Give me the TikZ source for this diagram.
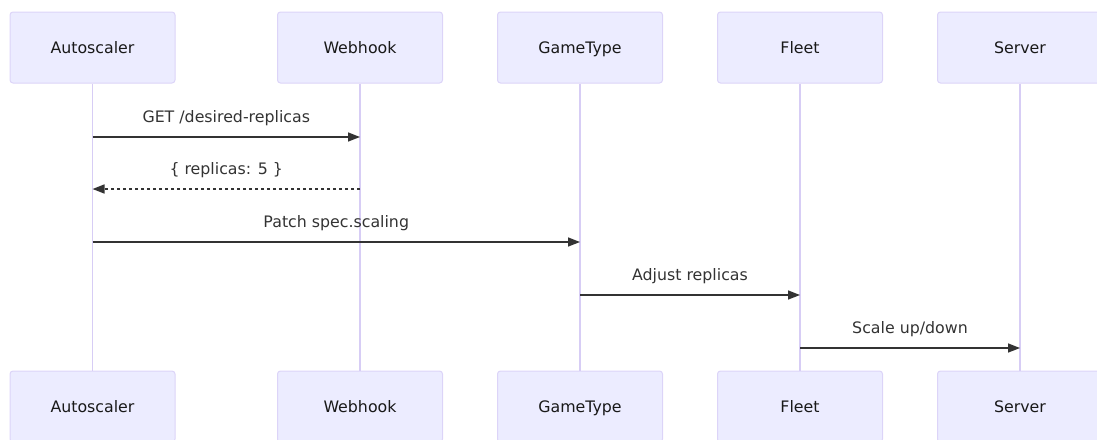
\documentclass[tikz,border=0pt]{standalone}
\usepackage{fontspec}
\setmainfont{DejaVu Sans}
\usetikzlibrary{arrows.meta}
\definecolor{actorfill}{HTML}{ECECFF}
\definecolor{actorline}{HTML}{DCD4F8}
\definecolor{lifeline}{HTML}{D7CDF5}
\definecolor{msgline}{HTML}{333333}
\tikzset{
  actor/.style={draw=actorline, fill=actorfill, line width=1pt, rounded corners=3pt,
    minimum width=165pt, minimum height=71pt, inner sep=0pt,
    text height=11.5pt, text depth=0.5pt,
    font=\fontsize{15.8}{18}\selectfont, text=black!90},
  life/.style={draw=lifeline, line width=1.6pt},
  msg/.style={draw=msgline, line width=1.6pt, -{Triangle[length=12pt,width=9pt]}},
  reply/.style={msg, dash pattern=on 3pt off 3pt},
  lbl/.style={font=\fontsize{15.8}{18}\selectfont, text=msgline, inner sep=0pt,
    text height=11.5pt, text depth=3.5pt}
}
\begin{document}
\begin{tikzpicture}[x=1pt,y=-1pt]
\useasboundingbox (0,0) rectangle (1097,439);
% participant boxes, top and bottom
\foreach \n/\t/\x in {a/Autoscaler/92.5, w/Webhook/360, g/GameType/580, f/Fleet/800, s/Server/1020}{
  \node[actor] (\n top) at (\x,47.5) {\t};
  \node[actor] (\n bot) at (\x,406.5) {\t};
  \draw[life] (\n top.south) -- (\n bot.north);
}
% message anchor points on lifelines
\foreach \n/\x in {a/92.5, w/360, g/580, f/800, s/1020}{
  \coordinate (\n1) at (\x,137);
  \coordinate (\n2) at (\x,189);
  \coordinate (\n3) at (\x,242);
  \coordinate (\n4) at (\x,295);
  \coordinate (\n5) at (\x,348);
}
\draw[msg] (a1) -- (w1) node[lbl, midway, above=10pt] {GET /desired-replicas};
\draw[reply] (w2) -- (a2) node[lbl, midway, above=10pt] {\{ replicas: 5 \}};
\draw[msg] (a3) -- (g3) node[lbl, midway, above=10pt] {Patch spec.scaling};
\draw[msg] (g4) -- (f4) node[lbl, midway, above=10pt] {Adjust replicas};
\draw[msg] (f5) -- (s5) node[lbl, midway, above=10pt] {Scale up/down};
\end{tikzpicture}
\end{document}
